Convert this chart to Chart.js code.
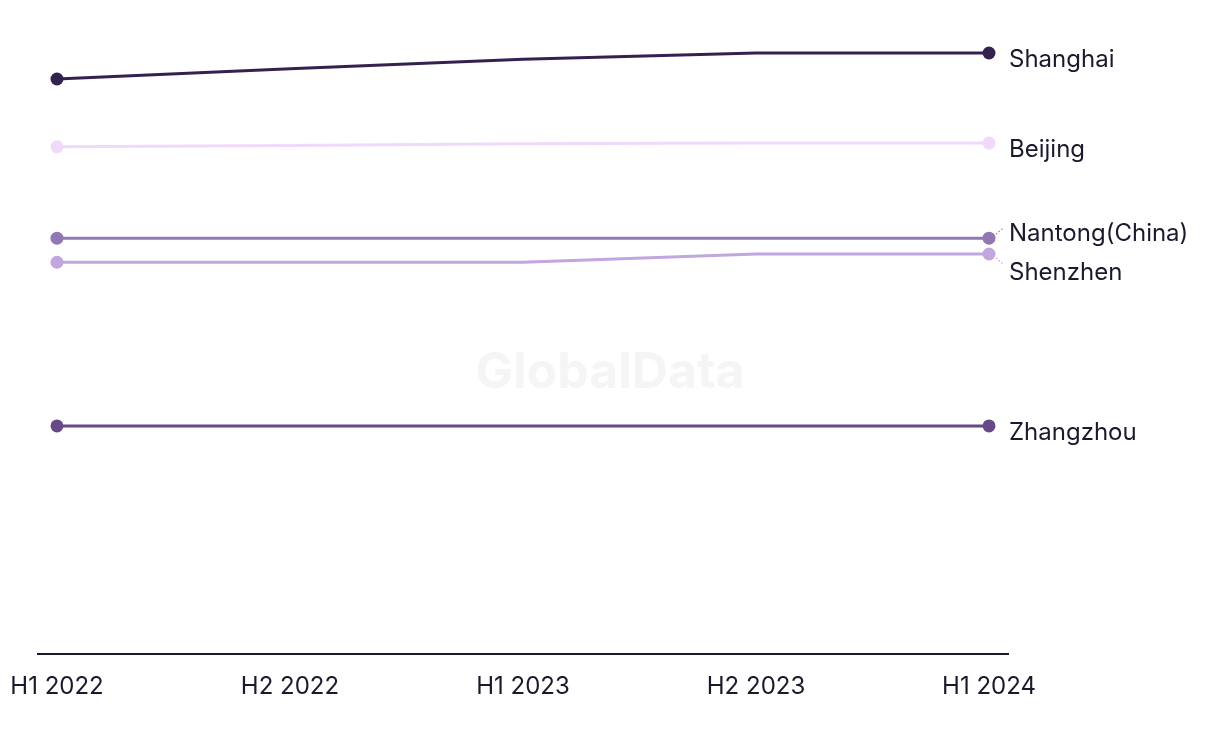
<!DOCTYPE html>
<html>
<head>
<meta charset="utf-8">
<script src="https://cdn.jsdelivr.net/npm/chart.js@4.4.1/dist/chart.umd.min.js"></script>
<style>
  html, body { margin: 0; padding: 0; background: #fff; }
  #wrap { width: 1220px; height: 744px; }
</style>
</head>
<body>
<div id="wrap"><canvas id="chart" width="1220" height="744"></canvas></div>
<script>
// periods on the x axis
const periods = ['H1 2022', 'H2 2022', 'H1 2023', 'H2 2023', 'H1 2024'];

// index values (no y axis shown)
const shanghai  = [90.7, 92.3, 93.8, 94.8, 94.8];
const beijing   = [80.0, 80.2, 80.5, 80.6, 80.6];
const nantong   = [65.6, 65.6, 65.6, 65.6, 65.6];
const shenzhen  = [61.8, 61.8, 61.8, 63.1, 63.1];
const zhangzhou = [36.0, 36.0, 36.0, 36.0, 36.0];

const cities = ['Shanghai', 'Beijing', 'Nantong(China)', 'Shenzhen', 'Zhangzhou'];
const colours = ['#35214f', '#f1d9fb', '#9177b4', '#c2a6e0', '#654a87'];
const values = [shanghai, beijing, nantong, shenzhen, zhangzhou];

const FONT = 'Inter, "Noto Sans", sans-serif';
const INK = '#1b1a2c';

// only first and last points get a dot
const dotSizes = periods.map((p, i) => (i === 0 || i === periods.length - 1) ? 6.5 : 0);

const watermark = {
    id: 'watermark',
    beforeDatasetsDraw(chart) {
        const ctx = chart.ctx;
        ctx.save();
        ctx.font = 'bold 50px ' + FONT;
        ctx.fillStyle = '#f5f5f5';
        ctx.textAlign = 'center';
        ctx.textBaseline = 'middle';
        ctx.fillText('GlobalData', 610, 373);
        ctx.restore();
    }
};

const endLabels = {
    id: 'endLabels',
    afterDatasetsDraw(chart) {
        const ctx = chart.ctx;
        const gap = 39;
        const off = 7;
        let items = chart.data.datasets.map((ds, i) => {
            const pts = chart.getDatasetMeta(i).data;
            const pt = pts[pts.length - 1];
            return { text: ds.label, x: pt.x, y: pt.y, ty: pt.y + off, color: ds.borderColor };
        });
        items.sort((a, b) => a.y - b.y);
        // spread labels that sit too close together
        for (let pass = 0; pass < 10; pass++) {
            for (let i = 1; i < items.length; i++) {
                const d = items[i].ty - items[i - 1].ty;
                if (d < gap) {
                    const push = (gap - d) / 2;
                    items[i - 1].ty -= push;
                    items[i].ty += push;
                }
            }
        }
        ctx.save();
        ctx.font = '24px ' + FONT;
        ctx.textBaseline = 'middle';
        ctx.textAlign = 'left';
        items.forEach(it => {
            if (Math.abs(it.ty - it.y - off) > 3) {
                const up = it.ty < it.y;
                ctx.strokeStyle = it.color;
                ctx.lineWidth = 1.2;
                ctx.setLineDash([1.5, 2]);
                ctx.beginPath();
                ctx.moveTo(it.x + 7, it.y + (up ? -4 : 4));
                ctx.lineTo(it.x + 14, it.y + (up ? -10 : 10));
                ctx.stroke();
                ctx.setLineDash([]);
            }
            ctx.fillStyle = INK;
            ctx.fillText(it.text, it.x + 20, it.ty);
        });
        ctx.restore();
    }
};

const datasets = cities.map((c, i) => ({
    label: c,
    data: values[i].map((v, j) => ({ x: j, y: v })),
    borderColor: colours[i],
    backgroundColor: colours[i],
    borderWidth: 3,
    pointRadius: dotSizes,
    pointHoverRadius: dotSizes,
    pointBorderWidth: 0,
    tension: 0,
    clip: false
}));

const config = {
    type: 'line',
    data: { datasets: datasets },
    options: {
        responsive: false,
        animation: false,
        layout: { padding: { left: 38, right: 212, top: 20, bottom: 25 } },
        plugins: {
            legend: { display: false },
            tooltip: { enabled: false }
        },
        scales: {
            x: {
                type: 'linear',
                min: -0.0815,
                max: 4.0815,
                afterBuildTicks: s => { s.ticks = periods.map((p, i) => ({ value: i })); },
                afterFit: s => { s.paddingLeft = 0; s.paddingRight = 0; },
                grid: { display: false, drawTicks: false },
                border: { display: true, color: INK, width: 2 },
                ticks: {
                    padding: 18,
                    color: INK,
                    font: { family: FONT, size: 24 },
                    maxRotation: 0,
                    autoSkip: false,
                    callback: v => periods[v]
                }
            },
            y: {
                display: false,
                min: 0,
                max: 100
            }
        }
    },
    plugins: [watermark, endLabels]
};

const ctx = document.getElementById('chart').getContext('2d');
const myChart = new Chart(ctx, config);
</script>
</body>
</html>
